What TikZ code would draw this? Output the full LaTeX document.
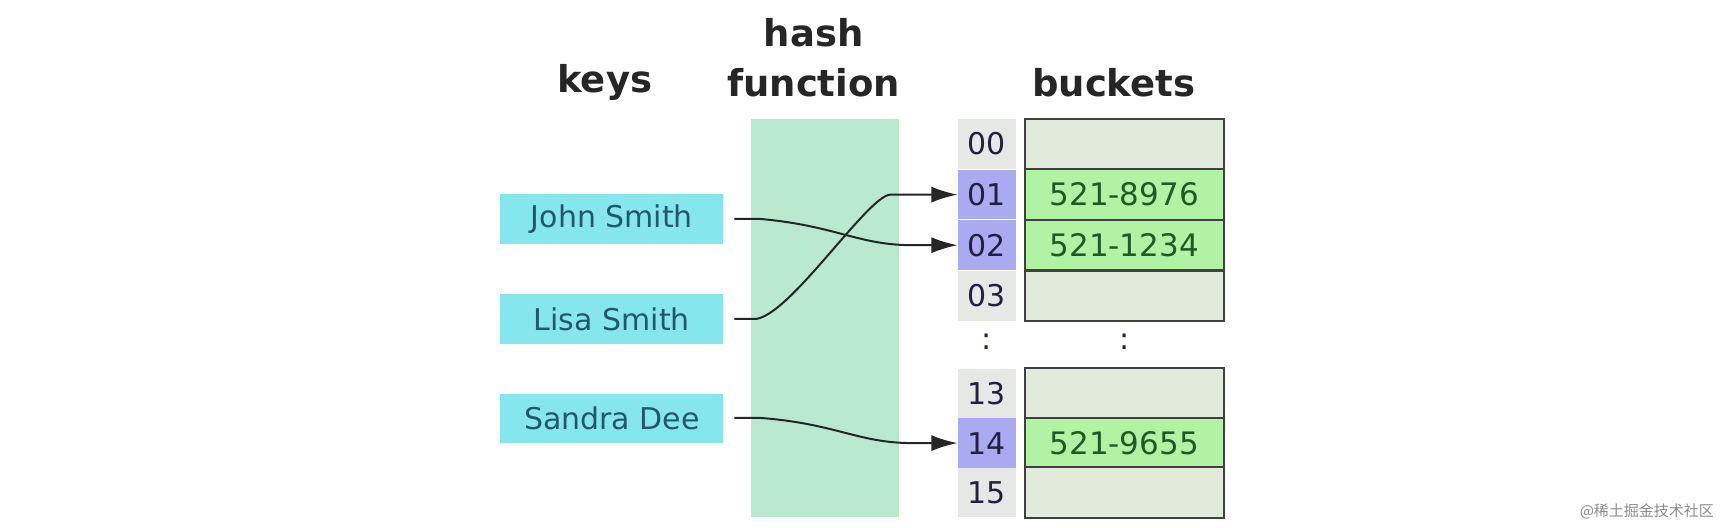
\documentclass[tikz,border=0pt]{standalone}
\usepackage{fontspec}
\setmainfont{DejaVu Sans}
\newfontfamily\cjk{Noto Sans CJK SC}
\usetikzlibrary{arrows.meta}
\definecolor{band}{HTML}{B9EACF}
\definecolor{keyc}{HTML}{86E6EE}
\definecolor{keyt}{HTML}{22586A}
\definecolor{idxg}{HTML}{E6E8E6}
\definecolor{idxp}{HTML}{AAAAF0}
\definecolor{idxt}{HTML}{202040}
\definecolor{bkg}{HTML}{E2EADB}
\definecolor{bkgreen}{HTML}{B2F2A4}
\definecolor{bkt}{HTML}{1F5A22}
\begin{document}
\begin{tikzpicture}[x=1.1pt,y=-1.1pt,
  title/.style={font=\fontsize{37}{40}\selectfont\bfseries, text=black!85},
  key/.style={fill=keyc, minimum width=203*1.1pt, minimum height=45*1.1pt, inner sep=0, text=keyt, font=\fontsize{30}{32}\selectfont},
  idx/.style={fill=idxg, minimum width=53*1.1pt, minimum height=45*1.1pt, inner sep=0, text=idxt, font=\fontsize{30}{32}\selectfont},
  hit/.style={idx, fill=idxp},
  bk/.style={draw=black!75, line width=2.2pt, fill=bkg, minimum width=181*1.1pt, minimum height=46*1.1pt, inner sep=0, text=bkt, font=\fontsize{31}{33}\selectfont},
  full/.style={bk, fill=bkgreen},
  con/.style={draw=black!85, line width=2pt, -{Latex[length=26pt,width=16pt]}}]
\useasboundingbox (0,0) rectangle (1568,480);
\fill[white] (0,0) rectangle (1568,480);
\node[title] (tk) at (550,75) {keys};
\node[title] (th) at (740,30) {hash};
\node[title] (tf) at (740,75) {function};
\node[title] (tb) at (1013,75) {buckets};
\fill[band] (683,108) rectangle (818,470);
\node[key] (john) at (556.5,199) {John Smith};
\node[key] (lisa) at (556.5,290) {Lisa Smith};
\node[key] (sandra) at (556.5,380.5) {Sandra Dee};
\node[idx] (i00) at (897.5,131) {00};
\node[hit] (i01) at (897.5,177) {01};
\node[hit] (i02) at (897.5,223) {02};
\node[idx] (i03) at (897.5,269) {03};
\node[idx] (i13) at (897.5,358) {13};
\node[hit] (i14) at (897.5,403) {14};
\node[idx] (i15) at (897.5,448) {15};
\node[font=\fontsize{30}{32}\selectfont, text=idxt] (d1) at (897.5,311) {:};
\node[font=\fontsize{30}{32}\selectfont, text=idxt] (d2) at (1022.5,311) {:};
\node[bk] (b00) at (1022.5,131) {};
\node[full] (b01) at (1022.5,177) {521-8976};
\node[full] (b02) at (1022.5,223) {521-1234};
\node[bk] (b03) at (1022.5,269) {};
\node[bk] (b13) at (1022.5,358) {};
\node[full] (b14) at (1022.5,403) {521-9655};
\node[bk] (b15) at (1022.5,448) {};
\coordinate (jo) at (668,199);
\coordinate (lo) at (668,290);
\coordinate (so) at (668,380);
\draw[con] (jo) -- (690,199) .. controls (760,205) and (780,223) .. (830,223) -- (i02.west);
\draw[con] (lo) -- (688,290) .. controls (720,285) and (790,177) .. (810,177) -- (i01.west);
\draw[con] (so) -- (690,380) .. controls (760,385) and (780,403) .. (830,403) -- (i14.west);
\node[font=\cjk\fontsize{15}{17}\selectfont, text=black!45, anchor=east] (wm) at (1562,465) {@稀土掘金技术社区};
\end{tikzpicture}
\end{document}
